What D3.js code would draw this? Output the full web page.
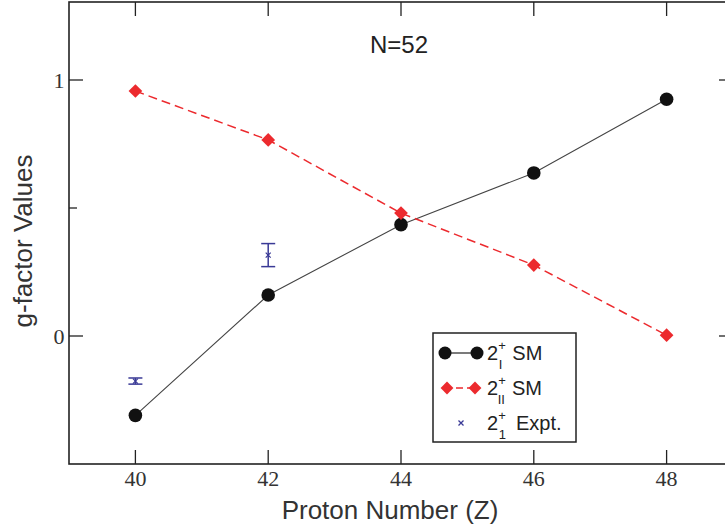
<!DOCTYPE html>
<html>
<head>
<meta charset="utf-8">
<script src="https://cdn.jsdelivr.net/npm/d3@7"></script>
<style>
  body { margin: 0; background: #fff; }
  svg { display: block; }
</style>
</head>
<body>
<svg id="chart" width="725" height="529"></svg>
<script>
// proton numbers
const protonNumbers = [40, 42, 44, 46, 48];
// 2+_I shell model g-factors
const smFirst = [-0.31, 0.16, 0.435, 0.637, 0.925];
// 2+_II shell model g-factors
const smSecond = [0.957, 0.766, 0.48, 0.277, 0.003];
// experimental 2+_1
const exptZ = [40, 42];
const exptValues = [-0.176, 0.316];
const exptErrors = [0.012, 0.045];

const xTicks = [40, 42, 44, 46, 48];
const yTicks = [0, 1];
const yMinorTicks = [0.5];

const svg = d3.select("#chart");

const margin = { left: 69, top: 2, right: 733, bottom: 464 };

const x = d3.scaleLinear().domain([39, 49]).range([margin.left, margin.right]);
const y = d3.scaleLinear().domain([-0.5, 1.3]).range([margin.bottom, 3.2]);

const serif = "'Liberation Serif', 'Times New Roman', serif";
const sans = "'Liberation Sans', Arial, sans-serif";

// frame
svg.append("rect")
  .attr("x", margin.left)
  .attr("y", margin.top)
  .attr("width", margin.right - margin.left)
  .attr("height", margin.bottom - margin.top)
  .style("fill", "none")
  .style("stroke", "#222")
  .style("stroke-width", 1.6);

const tickLen = 14;

// bottom / top ticks
xTicks.forEach((t) => {
  svg.append("line")
    .attr("x1", x(t)).attr("x2", x(t))
    .attr("y1", margin.bottom).attr("y2", margin.bottom - tickLen)
    .style("stroke", "#222").style("stroke-width", 1.3);
  svg.append("line")
    .attr("x1", x(t)).attr("x2", x(t))
    .attr("y1", margin.top).attr("y2", margin.top + tickLen)
    .style("stroke", "#222").style("stroke-width", 1.3);
  svg.append("text")
    .attr("x", x(t))
    .attr("y", 486)
    .attr("text-anchor", "middle")
    .style("font-family", serif)
    .style("font-size", "22px")
    .style("fill", "#333")
    .text(t);
});

// left / right ticks
yTicks.concat(yMinorTicks).forEach((t) => {
  const len = yMinorTicks.includes(t) ? 8 : tickLen;
  svg.append("line")
    .attr("x1", margin.left).attr("x2", margin.left + len)
    .attr("y1", y(t)).attr("y2", y(t))
    .style("stroke", "#222").style("stroke-width", 1.3);
  svg.append("line")
    .attr("x1", margin.right).attr("x2", margin.right - len)
    .attr("y1", y(t)).attr("y2", y(t))
    .style("stroke", "#222").style("stroke-width", 1.3);
});

yTicks.forEach((t) => {
  svg.append("text")
    .attr("x", 59)
    .attr("y", y(t) + 8)
    .attr("text-anchor", "middle")
    .style("font-family", serif)
    .style("font-size", "22px")
    .style("fill", "#333")
    .text(t);
});

// axis titles
svg.append("text")
  .attr("x", 390)
  .attr("y", 519)
  .attr("text-anchor", "middle")
  .style("font-family", sans)
  .style("font-size", "26px")
  .style("fill", "#333")
  .text("Proton Number (Z)");

svg.append("text")
  .attr("transform", "translate(32, 241) rotate(-90)")
  .attr("text-anchor", "middle")
  .style("font-family", sans)
  .style("font-size", "26px")
  .style("fill", "#333")
  .text("g-factor Values");

svg.append("text")
  .attr("x", 399)
  .attr("y", 53)
  .attr("text-anchor", "middle")
  .style("font-family", sans)
  .style("font-size", "24px")
  .style("fill", "#222")
  .text("N=52");

const line = d3.line()
  .x((d) => x(d[0]))
  .y((d) => y(d[1]));

const firstData = protonNumbers.map((z, i) => [z, smFirst[i]]);
const secondData = protonNumbers.map((z, i) => [z, smSecond[i]]);

const red = "#ec2a2e";
const blue = "#3a3a96";

// black series
svg.append("path")
  .datum(firstData)
  .attr("d", line)
  .style("fill", "none")
  .style("stroke", "#444")
  .style("stroke-width", 1.1);

svg.selectAll(".dot1")
  .data(firstData)
  .enter()
  .append("circle")
  .attr("cx", (d) => x(d[0]))
  .attr("cy", (d) => y(d[1]))
  .attr("r", 6.8)
  .style("fill", "#111");

// red dashed series
svg.append("path")
  .datum(secondData)
  .attr("d", line)
  .style("fill", "none")
  .style("stroke", red)
  .style("stroke-width", 1.5)
  .style("stroke-dasharray", "9,5");

const diamond = d3.symbol().type(d3.symbolDiamond2).size(120);

svg.selectAll(".dot2")
  .data(secondData)
  .enter()
  .append("path")
  .attr("d", diamond)
  .attr("transform", (d) => `translate(${x(d[0])},${y(d[1])})`)
  .style("fill", red);

// experiment with error bars
exptZ.forEach((z, i) => {
  const cx = x(z);
  const cy = y(exptValues[i]);
  const top = y(exptValues[i] + exptErrors[i]);
  const bot = y(exptValues[i] - exptErrors[i]);
  const g = svg.append("g").style("stroke", blue).style("stroke-width", 1.5);
  g.append("line").attr("x1", cx).attr("x2", cx).attr("y1", top).attr("y2", bot);
  g.append("line").attr("x1", cx - 7).attr("x2", cx + 7).attr("y1", top).attr("y2", top);
  g.append("line").attr("x1", cx - 7).attr("x2", cx + 7).attr("y1", bot).attr("y2", bot);
  g.append("path")
    .attr("d", d3.symbol().type(d3.symbolX).size(18))
    .attr("transform", `translate(${cx},${cy})`)
    .style("fill", "none")
    .style("stroke-width", 1.2);
});

// legend
const legend = svg.append("g");
legend.append("rect")
  .attr("x", 433).attr("y", 333)
  .attr("width", 143).attr("height", 109)
  .style("fill", "#fff")
  .style("stroke", "#222")
  .style("stroke-width", 1.5);

const legendRows = [
  { sub: "I", label: "SM", kind: "circle", y: 353 },
  { sub: "II", label: "SM", kind: "diamond", y: 388 },
  { sub: "1", label: "Expt.", kind: "x", y: 423 },
];

legendRows.forEach((row) => {
  if (row.kind === "circle") {
    legend.append("line")
      .attr("x1", 445).attr("x2", 477).attr("y1", row.y).attr("y2", row.y)
      .style("stroke", "#333").style("stroke-width", 1.3);
    [445, 477].forEach((cx) => {
      legend.append("circle").attr("cx", cx).attr("cy", row.y).attr("r", 6.5).style("fill", "#111");
    });
  } else if (row.kind === "diamond") {
    legend.append("line")
      .attr("x1", 445).attr("x2", 477).attr("y1", row.y).attr("y2", row.y)
      .style("stroke", red).style("stroke-width", 1.5).style("stroke-dasharray", "7,4");
    [447, 475].forEach((cx) => {
      legend.append("path")
        .attr("d", d3.symbol().type(d3.symbolDiamond2).size(105))
        .attr("transform", `translate(${cx},${row.y})`)
        .style("fill", red);
    });
  } else {
    legend.append("path")
      .attr("d", d3.symbol().type(d3.symbolX).size(18))
      .attr("transform", `translate(461,${row.y})`)
      .style("fill", "none")
      .style("stroke", blue)
      .style("stroke-width", 1.3);
  }

  const t = legend.append("text")
    .attr("x", 487)
    .attr("y", row.y + 7)
    .style("font-family", sans)
    .style("font-size", "20px")
    .style("fill", "#222");
  t.append("tspan").text("2");
  t.append("tspan").attr("dy", -10).style("font-size", "13px").text("+");
  t.append("tspan").attr("dx", row.sub === "II" ? -8 : -7).attr("dy", 19).style("font-size", "13px").text(row.sub);
  t.append("tspan").attr("dx", row.sub === "II" ? 7 : 10).attr("dy", -9).text(row.label);
});
</script>
</body>
</html>
